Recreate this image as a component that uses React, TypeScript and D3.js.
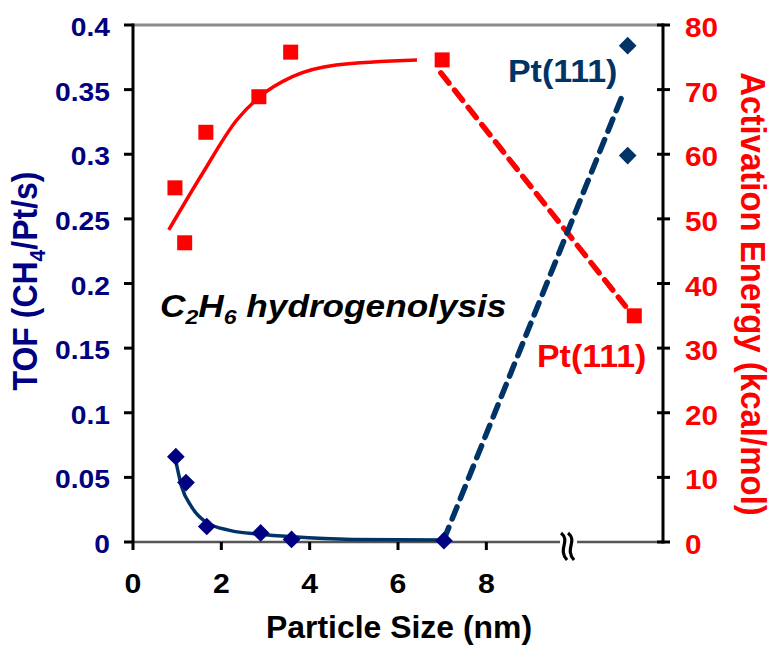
import React, { useEffect, useRef } from 'react';
import * as d3 from 'd3';

// TOF (left axis) - supported particles
const tofSize = [0.97, 1.2, 1.67, 2.89, 3.59, 7.04];
const tofValue = [0.066, 0.046, 0.012, 0.007, 0.002, 0.001];
// TOF on Pt(111)
const ptTofSize = [11.2, 11.2];
const ptTofValue = [0.384, 0.299];
// TOF fit curve
const tofFitSize = [0.95, 1.1, 1.33, 1.67, 2.19, 2.87, 3.61, 4.97, 7.04];
const tofFitValue = [0.066, 0.043, 0.027, 0.015, 0.009, 0.006, 0.004, 0.002, 0.0015];
// dashed link to Pt(111)
const tofLinkSize = [7.04, 11.05];
const tofLinkValue = [0.002, 0.343];

// activation energy (right axis)
const eaSize = [0.95, 1.17, 1.65, 2.85, 3.57, 7.0];
const eaValue = [54.8, 46.3, 63.4, 68.9, 75.8, 74.6];
const ptEaSize = [11.35];
const ptEaValue = [35.0];
const eaFitSize = [0.81, 1.58, 2.35, 2.87, 3.61, 4.6, 6.43];
const eaFitValue = [48.3, 57.1, 65.3, 68.9, 72.0, 73.8, 74.6];
const eaLinkSize = [6.97, 11.15];
const eaLinkValue = [72.6, 36.5];

const xTicks = [0, 2, 4, 6, 8];
const tofTicks = [0, 0.05, 0.1, 0.15, 0.2, 0.25, 0.3, 0.35, 0.4];
const eaTicks = [0, 10, 20, 30, 40, 50, 60, 70, 80];
const xBreak = 9.85;

const W = 772;
const H = 648;
const FONT = 'Liberation Sans, Arial, sans-serif';
const NAVY = '#000080';
const BLUE = '#003366';
const RED = '#ff0000';

const ParticleChart = () => {
  const svgRef = useRef<SVGSVGElement>(null);

  useEffect(() => {
    const svg = d3.select(svgRef.current);
    svg.selectAll('*').remove();

    const m = { left: 133, right: 663, top: 25, bottom: 542 };
    const x = d3.scaleLinear().domain([0, 12]).range([m.left, m.right]);
    const yT = d3.scaleLinear().domain([0, 0.4]).range([m.bottom, m.top]);
    const yE = d3.scaleLinear().domain([0, 80]).range([m.bottom, m.top]);

    const pts = (xs: number[], ys: number[]) => xs.map((v, i) => [v, ys[i]] as [number, number]);

    // the fonts in the picture are a bit wider than Arial, so stretch them
    const label = (tx: number, ty: number, sx: number, rot = 0) =>
      svg.append('text')
        .attr('transform', `translate(${tx},${ty}) scale(${sx},1)` + (rot ? ` rotate(${rot})` : ''))
        .attr('font-family', FONT).attr('font-weight', 'bold');

    // frame: top grey line, bottom axis
    svg.append('line')
      .attr('x1', m.left).attr('x2', m.right)
      .attr('y1', m.top).attr('y2', m.top)
      .attr('stroke', '#8c8c8c').attr('stroke-width', 3);
    svg.append('line')
      .attr('x1', m.left).attr('x2', m.right)
      .attr('y1', m.bottom).attr('y2', m.bottom)
      .attr('stroke', '#555').attr('stroke-width', 2.5);

    // x ticks
    svg.selectAll('.xt')
      .data(xTicks.filter(d => d > 0))
      .enter()
      .append('line')
      .attr('x1', d => x(d)).attr('x2', d => x(d))
      .attr('y1', m.bottom).attr('y2', m.bottom + 8)
      .attr('stroke', 'black').attr('stroke-width', 3);
    xTicks.forEach(d => {
      label(x(d), m.bottom + 51, 1.08)
        .attr('text-anchor', 'middle').attr('font-size', 28)
        .text(d);
    });

    // axis break
    const brk = x(xBreak);
    svg.append('rect')
      .attr('x', brk - 8).attr('y', m.bottom - 4).attr('width', 17).attr('height', 8)
      .attr('fill', 'white');
    [-6, 1].forEach(off => {
      const p = d3.path();
      const s = brk + off;
      p.moveTo(s - 1, m.bottom - 9);
      p.bezierCurveTo(s + 9, m.bottom - 1, s - 5, m.bottom + 7, s + 5, m.bottom + 18);
      svg.append('path').attr('d', p.toString())
        .attr('fill', 'none').attr('stroke', 'black').attr('stroke-width', 3.2);
    });

    // left axis
    svg.append('line')
      .attr('x1', m.left).attr('x2', m.left)
      .attr('y1', m.top - 1.5).attr('y2', m.bottom + 8)
      .attr('stroke', 'black').attr('stroke-width', 3);
    svg.selectAll('.lt')
      .data(tofTicks)
      .enter()
      .append('line')
      .attr('x1', m.left - 9).attr('x2', m.left)
      .attr('y1', d => yT(d)).attr('y2', d => yT(d))
      .attr('stroke', 'black').attr('stroke-width', 3);
    tofTicks.forEach(d => {
      label(110, yT(d) + 11, 1.13)
        .attr('text-anchor', 'end').attr('font-size', 25)
        .attr('fill', NAVY)
        .text(String(d));
    });

    // right axis
    svg.append('line')
      .attr('x1', m.right).attr('x2', m.right)
      .attr('y1', m.top - 1.5).attr('y2', m.bottom + 1.5)
      .attr('stroke', 'black').attr('stroke-width', 3);
    svg.selectAll('.rt')
      .data(eaTicks)
      .enter()
      .append('line')
      .attr('x1', m.right - 6).attr('x2', m.right + 7)
      .attr('y1', d => yE(d)).attr('y2', d => yE(d))
      .attr('stroke', 'black').attr('stroke-width', 3);
    eaTicks.forEach(d => {
      label(685, yE(d) + 12, 1.1)
        .attr('font-size', 27)
        .attr('fill', RED)
        .text(d);
    });

    // axis titles
    const lt = label(37, 281, 1.08, -90)
      .attr('text-anchor', 'middle').attr('font-size', 32)
      .attr('fill', NAVY);
    lt.append('tspan').text('TOF (CH');
    lt.append('tspan').attr('font-size', 21).attr('dy', 7).text('4');
    lt.append('tspan').attr('dy', -7).text('/Pt/s)');

    label(741, 294, 1.08, 90)
      .attr('text-anchor', 'middle').attr('font-size', 33)
      .attr('fill', RED)
      .text('Activation Energy (kcal/mol)');

    label(399, 638, 1.03)
      .attr('text-anchor', 'middle').attr('font-size', 31)
      .text('Particle Size (nm)');

    // fit curves
    const lineT = d3.line<[number, number]>()
      .x(d => x(d[0])).y(d => yT(d[1]))
      .curve(d3.curveMonotoneX);
    const lineE = d3.line<[number, number]>()
      .x(d => x(d[0])).y(d => yE(d[1]))
      .curve(d3.curveMonotoneX);

    svg.append('path')
      .attr('d', lineE(pts(eaFitSize, eaFitValue)))
      .attr('fill', 'none').attr('stroke', RED).attr('stroke-width', 3.5);
    svg.append('path')
      .attr('d', lineE(pts(eaLinkSize, eaLinkValue)))
      .attr('fill', 'none').attr('stroke', RED).attr('stroke-width', 5.5)
      .attr('stroke-dasharray', '13,9').attr('stroke-linecap', 'round');

    svg.append('path')
      .attr('d', lineT(pts(tofFitSize, tofFitValue)))
      .attr('fill', 'none').attr('stroke', BLUE).attr('stroke-width', 3.5);
    svg.append('path')
      .attr('d', lineT(pts(tofLinkSize, tofLinkValue)))
      .attr('fill', 'none').attr('stroke', BLUE).attr('stroke-width', 5.5)
      .attr('stroke-dasharray', '13,9').attr('stroke-linecap', 'round');

    // markers
    const sq = 15;
    svg.selectAll('.sq')
      .data(pts(eaSize.concat(ptEaSize), eaValue.concat(ptEaValue)))
      .enter()
      .append('rect')
      .attr('x', d => x(d[0]) - sq / 2).attr('y', d => yE(d[1]) - sq / 2)
      .attr('width', sq).attr('height', sq)
      .attr('fill', RED);

    const diamond = d3.symbol().type(d3.symbolDiamond2).size(200);
    svg.selectAll('.dm')
      .data(pts(tofSize, tofValue))
      .enter()
      .append('path')
      .attr('d', diamond)
      .attr('transform', d => `translate(${x(d[0])},${yT(d[1])})`)
      .attr('fill', NAVY);
    svg.selectAll('.dp')
      .data(pts(ptTofSize, ptTofValue))
      .enter()
      .append('path')
      .attr('d', diamond)
      .attr('transform', d => `translate(${x(d[0])},${yT(d[1])})`)
      .attr('fill', BLUE);

    // labels
    label(508, 82, 1.06)
      .attr('font-size', 32)
      .attr('fill', BLUE)
      .text('Pt(111)');
    label(537, 367, 1.06)
      .attr('font-size', 32)
      .attr('fill', RED)
      .text('Pt(111)');

    const ann = label(160, 317, 1.1)
      .attr('font-style', 'italic')
      .attr('font-size', 32);
    ann.append('tspan').text('C');
    ann.append('tspan').attr('font-size', 21).attr('dy', 7).text('2');
    ann.append('tspan').attr('dy', -7).text('H');
    ann.append('tspan').attr('font-size', 21).attr('dy', 7).text('6');
    ann.append('tspan').attr('dy', -7).text(' hydrogenolysis');
  }, []);

  return (
    <svg ref={svgRef} width={W} height={H}
      style={{ position: 'absolute', left: 0, top: 0, background: 'white' }}></svg>
  );
};

export default function App() {
  return <ParticleChart />;
}
